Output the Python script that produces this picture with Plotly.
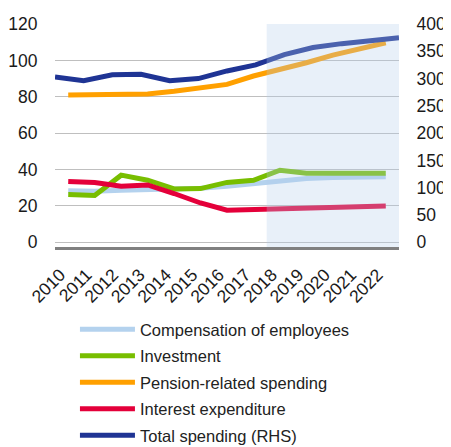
import plotly.graph_objects as go

years = list(range(2010, 2023))

compensation = [28.3, 28.1, 28.6, 29.0, 29.5, 29.7, 30.8, 32.3, 33.7, 35.0, 35.6, 35.8, 36.0]
investment = [26.2, 25.7, 36.9, 34.1, 29.3, 29.5, 32.9, 34.1, 39.6, 38.0, 37.9, 37.9, 37.9]
pension = [81.0, 81.0, 81.4, 81.5, 83.0, 84.6, 86.8, 91.4, 94.7, 98.7, 102.9, 106.2, 109.7]
interest = [33.4, 32.9, 30.8, 31.5, 26.8, 21.6, 17.6, 18.0, 18.5, 18.9, 19.3, 19.6, 20.0]
total_rhs = [303, 296, 307, 308, 296, 300, 314, 325, 344, 357, 364, 369, 375]

forecast_from = 2017.5

font = "Liberation Sans, Arial, sans-serif"

fig = go.Figure()

series = [
    ("Compensation of employees", compensation, "#B4D2EE"),
    ("Investment", investment, "#78BE00"),
    ("Pension-related spending", pension, "#FFA000"),
    ("Interest expenditure", interest, "#E4003A"),
]
for i, (name, vals, col) in enumerate(series):
    fig.add_trace(go.Scatter(
        x=years, y=vals, name=name, mode="lines",
        line=dict(color=col, width=5), legendgroup=str(i),
    ))

# total spending sits on its own x axis in the source (edge to edge)
fig.add_trace(go.Scatter(
    x=years, y=total_rhs, name="Total spending (RHS)", mode="lines",
    line=dict(color="#1F3494", width=5), xaxis="x2", yaxis="y2", legendgroup="4",
))

# forecast shading, drawn on top so the lines look faded behind it
fig.add_shape(
    type="rect", xref="x", yref="paper",
    x0=forecast_from, x1=2022.5, y0=0, y1=1,
    fillcolor="rgba(180,205,235,0.3)", line_width=0, layer="above",
)

# page body has an 8px margin, so the figure is a bit smaller than the window
fig.update_layout(
    width=443, height=439,
    margin=dict(l=47, r=52, t=16, b=200, autoexpand=False),
    paper_bgcolor="white", plot_bgcolor="white",
    font=dict(family=font, size=17, color="#1a1a1a"),
    showlegend=True,
    legend=dict(
        x=0.058, y=-0.292, xanchor="left", yanchor="top",
        font=dict(size=16.5, color="#222"), tracegroupgap=2,
        itemwidth=55,
    ),
    xaxis=dict(
        range=[2009.5, 2022.5], tickvals=years, ticktext=[str(y) for y in years],
        tickangle=-45, showgrid=False, zeroline=False,
        showline=True, linecolor="#808080", linewidth=2.5,
        tickfont=dict(size=17.5), ticks="outside", ticklen=8, tickcolor="rgba(0,0,0,0)",
        ticklabelshift=-8, automargin=False,
    ),
    xaxis2=dict(range=[2010, 2022], overlaying="x", visible=False),
    yaxis=dict(
        range=[-2.6, 120], tickvals=[0, 20, 40, 60, 80, 100, 120],
        showgrid=True, gridcolor="#BFBFBF", gridwidth=1, zeroline=False,
        ticks="outside", ticklen=13, tickcolor="rgba(0,0,0,0)",
        tickfont=dict(size=17.5), automargin=False,
    ),
    yaxis2=dict(
        range=[-8.67, 400], tickvals=[0, 50, 100, 150, 200, 250, 300, 350, 400],
        overlaying="y", side="right", showgrid=False, zeroline=False,
        ticks="outside", ticklen=13, tickcolor="rgba(0,0,0,0)",
        tickfont=dict(size=17.5), automargin=False,
    ),
)

fig.write_html("out.html")
